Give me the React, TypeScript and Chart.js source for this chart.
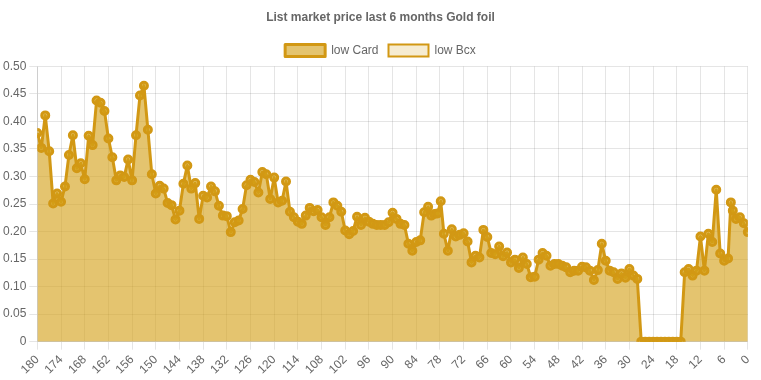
import React, { useEffect, useRef } from "react";
import { Chart, registerables } from "chart.js";

Chart.register(...registerables);

const chartTitle = "List market price last 6 months Gold foil";
const seriesNames = ["low Card", "low Bcx"];

const days = [
  180, 179, 178, 177, 176, 175, 174, 173, 172, 171,
  170, 169, 168, 167, 166, 165, 164, 163, 162, 161,
  160, 159, 158, 157, 156, 155, 154, 153, 152, 151,
  150, 149, 148, 147, 146, 145, 144, 143, 142, 141,
  140, 139, 138, 137, 136, 135, 134, 133, 132, 131,
  130, 129, 128, 127, 126, 125, 124, 123, 122, 121,
  120, 119, 118, 117, 116, 115, 114, 113, 112, 111,
  110, 109, 108, 107, 106, 105, 104, 103, 102, 101,
  100, 99, 98, 97, 96, 95, 94, 93, 92, 91,
  90, 89, 88, 87, 86, 85, 84, 83, 82, 81,
  80.2, 79.4, 78.6, 77.8,
  77, 76, 75,
  74, 73, 72, 71, 70, 69, 68, 67, 66, 65,
  64, 63, 62, 61, 60, 59, 58, 57, 56, 55,
  54, 53, 52, 51, 50, 49, 48, 47, 46, 45,
  44, 43, 42, 41, 40, 39, 38, 37, 36, 35,
  34, 33, 32, 31, 30, 29, 28, 27, 26, 25,
  24, 23, 22, 21, 20, 19, 18, 17, 16, 15,
  14, 13, 12, 11, 10, 9, 8, 7, 6, 5,
  4.3, 3.8, 3, 2, 1, 0,
];

const lowCard = [
  0.379, 0.352, 0.411, 0.346, 0.251, 0.269, 0.254, 0.282, 0.339, 0.375,
  0.315, 0.324, 0.295, 0.374, 0.357, 0.438, 0.434, 0.419, 0.369, 0.335,
  0.293, 0.302, 0.299, 0.331, 0.293, 0.375, 0.447, 0.465, 0.385, 0.304,
  0.269, 0.283, 0.278, 0.252, 0.248, 0.222, 0.238, 0.287, 0.32, 0.278,
  0.288, 0.223, 0.265, 0.262, 0.282, 0.273, 0.247, 0.229, 0.228, 0.199,
  0.217, 0.22, 0.241, 0.284, 0.294, 0.29, 0.271, 0.308, 0.304, 0.259,
  0.298, 0.253, 0.256, 0.291, 0.236, 0.226, 0.218, 0.214, 0.229, 0.243,
  0.237, 0.239, 0.226, 0.212, 0.226, 0.253, 0.247, 0.236, 0.202, 0.195,
  0.201, 0.227, 0.212, 0.225, 0.218, 0.214, 0.212, 0.212, 0.212, 0.217,
  0.234, 0.223, 0.214, 0.212, 0.178, 0.165, 0.181, 0.184, 0.235, 0.245,
  0.229, 0.232, 0.233, 0.255,
  0.196, 0.165, 0.204,
  0.191, 0.194, 0.197, 0.182, 0.144, 0.156, 0.153, 0.203, 0.19, 0.161,
  0.159, 0.173, 0.155, 0.162, 0.144, 0.149, 0.134, 0.153, 0.141, 0.117,
  0.118, 0.149, 0.161, 0.156, 0.138, 0.141, 0.141, 0.138, 0.135, 0.126,
  0.129, 0.129, 0.136, 0.135, 0.129, 0.112, 0.13, 0.178, 0.147, 0.129,
  0.126, 0.114, 0.124, 0.116, 0.132, 0.12, 0.114, 0, 0, 0,
  0, 0, 0, 0, 0, 0, 0, 0, 0.126, 0.132,
  0.12, 0.129, 0.191, 0.129, 0.196, 0.181, 0.276, 0.16, 0.147, 0.151,
  0.253, 0.238, 0.223, 0.226, 0.215, 0.199,
];

const lowBcx: number[] = [];

export default function App() {
  const canvasRef = useRef<HTMLCanvasElement | null>(null);

  useEffect(() => {
    if (!canvasRef.current) return;
    Chart.defaults.font.family = "'Liberation Sans', Arial, sans-serif";
    Chart.defaults.color = "#666";
    const gold = "rgb(210,152,20)";
    const chart = new Chart(canvasRef.current, {
      type: "line",
      data: {
        datasets: [
          {
            label: seriesNames[0],
            data: days.map((d, i) => ({ x: d, y: lowCard[i] })),
            borderColor: gold,
            backgroundColor: "rgba(212,160,23,0.62)",
            borderWidth: 3,
            borderJoinStyle: "round",
            pointRadius: 3.5,
            pointBorderWidth: 3,
            pointBorderColor: gold,
            pointBackgroundColor: "rgba(212,160,23,0.62)",
            fill: "origin",
            tension: 0,
          },
          {
            label: seriesNames[1],
            data: lowBcx.map((v, i) => ({ x: days[i], y: v })),
            borderColor: gold,
            backgroundColor: "rgba(212,160,23,0.2)",
            borderWidth: 2,
            fill: "origin",
          },
        ],
      },
      options: {
        animation: false,
        responsive: true,
        maintainAspectRatio: false,
        plugins: {
          title: {
            display: true,
            text: chartTitle,
            font: { size: 12, weight: "bold" },
            color: "#666",
          },
          legend: {
            labels: { boxWidth: 40, font: { size: 12 } },
          },
          tooltip: { enabled: false },
        },
        scales: {
          x: {
            type: "linear",
            reverse: true,
            min: 0,
            max: 180,
            ticks: {
              stepSize: 6,
              autoSkip: false,
              minRotation: 45,
              maxRotation: 45,
              font: { size: 12 },
            },
          },
          y: {
            min: 0,
            max: 0.5,
            ticks: { stepSize: 0.05, font: { size: 12 } },
          },
        },
      },
    });
    return () => chart.destroy();
  }, []);

  return (
    <div style={{ position: "absolute", left: 0, top: 0, width: 761, height: 380 }}>
      <canvas ref={canvasRef} />
    </div>
  );
}
